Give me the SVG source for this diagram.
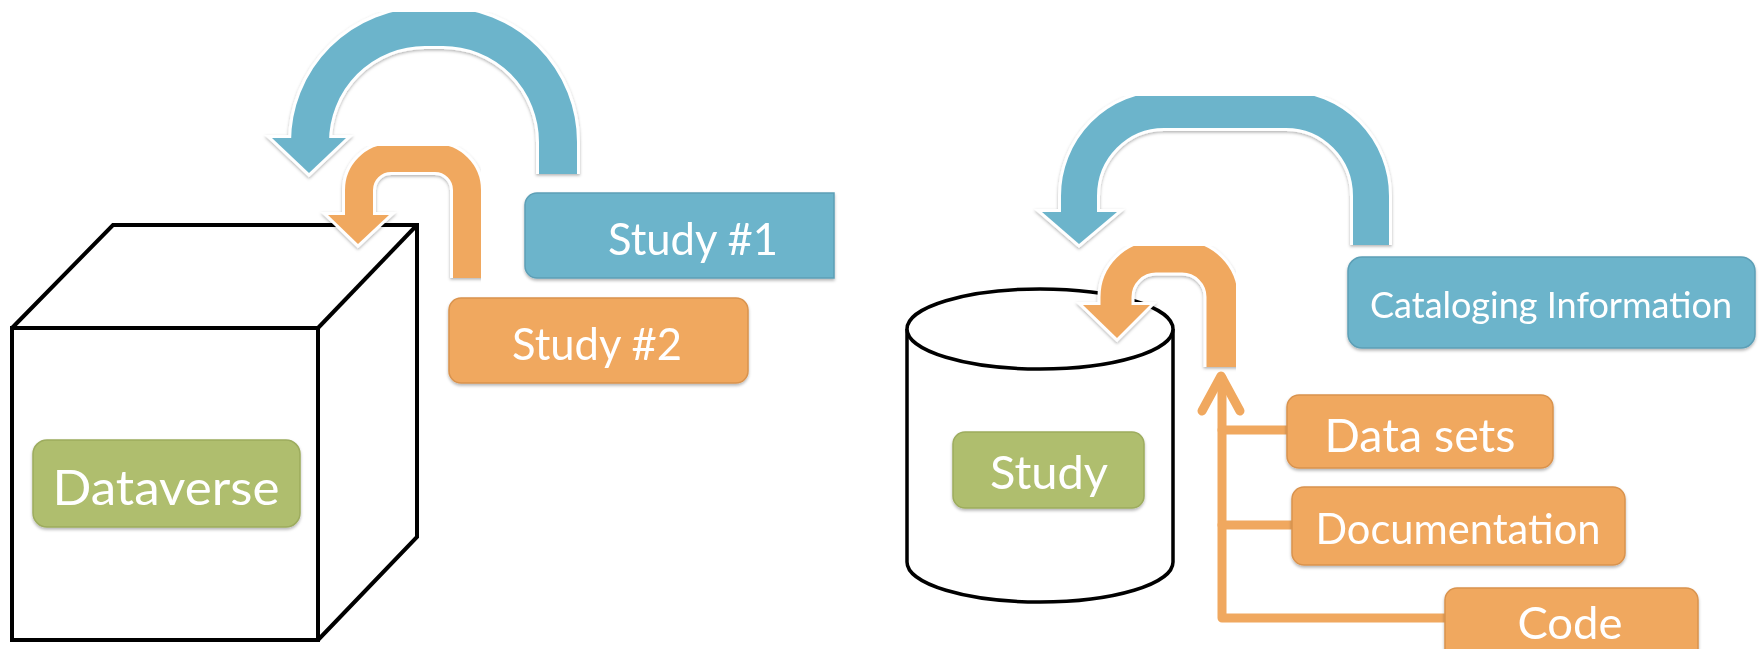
<svg xmlns="http://www.w3.org/2000/svg" width="1761" height="649" viewBox="0 0 1761 649">
  <defs>
    <filter id="sh" x="-10%" y="-10%" width="120%" height="130%">
      <feDropShadow dx="0" dy="2" stdDeviation="1.6" flood-color="#000" flood-opacity="0.28"/>
    </filter>
    <filter id="ash" x="-10%" y="-10%" width="120%" height="130%">
      <feDropShadow dx="0" dy="1.5" stdDeviation="1.5" flood-color="#000" flood-opacity="0.3"/>
    </filter>
  </defs>
  <style>
    .lbl { font-family: Lato, "Open Sans", "Liberation Sans", sans-serif; fill: #ffffff; text-anchor: middle; }
    .blue { fill: #6cb4cb; stroke: #5d9fb6; stroke-width: 1.5; }
    .orange { fill: #f0a85f; stroke: #d9934e; stroke-width: 1.5; }
    .green { fill: #afbe6e; stroke: #9dac5e; stroke-width: 1.5; }
    .outline { fill: none; stroke: #000; stroke-width: 4; stroke-linejoin: miter; }
    .shaftW { fill: none; stroke: #ffffff; stroke-linecap: butt; }
    .headW { stroke: #ffffff; stroke-width: 6; stroke-linejoin: miter; }
    .bshaft { fill: none; stroke: #6cb4cb; stroke-linecap: butt; }
    .oshaft { fill: none; stroke: #f0a85f; stroke-linecap: butt; }
    .link { fill: none; stroke: #f0a85f; stroke-width: 9; stroke-linecap: round; stroke-linejoin: round; }
  </style>
  <rect x="0" y="0" width="1761" height="649" fill="#ffffff"/>

  <!-- Cube (Dataverse container) -->
  <g id="cube">
    <polygon points="12,328 113,225 417,225 417,537 318,640 12,640" fill="#ffffff"/>
    <rect class="outline" x="12" y="328" width="306" height="312"/>
    <polyline class="outline" points="12,328 113,225 417,225 417,537 318,640"/>
    <line class="outline" x1="318" y1="328" x2="417" y2="225"/>
  </g>

  <!-- Cylinder (Study container) -->
  <g id="cylinder">
    <path d="M907,329 V562 A133,40 0 0 0 1173,562 V329" fill="#ffffff" stroke="#000" stroke-width="3.5"/>
    <ellipse cx="1040" cy="329" rx="133" ry="40" fill="#ffffff" stroke="#000" stroke-width="3.5"/>
  </g>

  <g id="connectors">
    <!-- left blue U-turn arrow -->
    <g filter="url(#ash)">
      <path class="shaftW" stroke-width="44" d="M558,174 V142 A115,115 0 0 0 443,27 H425 A115,115 0 0 0 310,142 V139"/>
      <polygon class="headW" points="272,138 346,138 309,173" fill="#ffffff"/>
      <path class="bshaft" stroke-width="38" d="M558,174 V142 A115,115 0 0 0 443,27 H425 A115,115 0 0 0 310,142 V139"/>
      <polygon points="272,138 346,138 309,173" fill="#6cb4cb"/>
    </g>
    <!-- left orange U-turn arrow -->
    <g filter="url(#ash)">
      <path class="shaftW" stroke-width="34" d="M467,278 V190 A32,32 0 0 0 435,158 H391 A32,32 0 0 0 359,190 V216"/>
      <polygon class="headW" points="328,215 389,215 358,244" fill="#ffffff"/>
      <path class="oshaft" stroke-width="28" d="M467,278 V190 A32,32 0 0 0 435,158 H391 A32,32 0 0 0 359,190 V216"/>
      <polygon points="328,215 389,215 358,244" fill="#f0a85f"/>
    </g>
    <!-- right blue U-turn arrow -->
    <g filter="url(#ash)">
      <path class="shaftW" stroke-width="42" d="M1371,245 V196 A85,86 0 0 0 1286,110 H1164 A85,86 0 0 0 1079,196 V213"/>
      <polygon class="headW" points="1042,212 1117,212 1079,244" fill="#ffffff"/>
      <path class="bshaft" stroke-width="36" d="M1371,245 V196 A85,86 0 0 0 1286,110 H1164 A85,86 0 0 0 1079,196 V213"/>
      <polygon points="1042,212 1117,212 1079,244" fill="#6cb4cb"/>
    </g>
    <!-- right orange U-turn arrow -->
    <g filter="url(#ash)">
      <path class="shaftW" stroke-width="37" d="M1222,367 V297 A40,40 0 0 0 1182,257 H1156 A40,40 0 0 0 1116,297 V306"/>
      <polygon class="headW" points="1083,305 1150,305 1117,338" fill="#ffffff"/>
      <path class="oshaft" stroke-width="31" d="M1222,367 V297 A40,40 0 0 0 1182,257 H1156 A40,40 0 0 0 1116,297 V306"/>
      <polygon points="1083,305 1150,305 1117,338" fill="#f0a85f"/>
    </g>
    <!-- component links into the study -->
    <path class="link" d="M1222,378 V618 H1450"/>
    <path class="link" d="M1222,430 H1292"/>
    <path class="link" d="M1222,525 H1296"/>
    <polyline class="link" points="1202,411 1221,376 1240,411"/>
  </g>

  <g id="study1" filter="url(#sh)">
    <path class="blue" d="M834,193 H537 A12,12 0 0 0 525,205 V266 A12,12 0 0 0 537,278 H834 Z"/>
    <text class="lbl" x="693" y="255" font-size="44" textLength="170" lengthAdjust="spacingAndGlyphs">Study #1</text>
  </g>

  <g id="study2" filter="url(#sh)">
    <rect class="orange" x="449" y="298" width="299" height="85" rx="12"/>
    <text class="lbl" x="597" y="360" font-size="44" textLength="170" lengthAdjust="spacingAndGlyphs">Study #2</text>
  </g>

  <g id="dataverse" filter="url(#sh)">
    <rect class="green" x="33" y="440" width="267" height="87" rx="14"/>
    <text class="lbl" x="166" y="505" font-size="49" textLength="227" lengthAdjust="spacingAndGlyphs">Dataverse</text>
  </g>

  <g id="study" filter="url(#sh)">
    <rect class="green" x="953" y="432" width="191" height="76" rx="12"/>
    <text class="lbl" x="1049" y="489" font-size="46" textLength="118" lengthAdjust="spacingAndGlyphs">Study</text>
  </g>

  <g id="cataloging" filter="url(#sh)">
    <rect class="blue" x="1348" y="257" width="407" height="91" rx="14"/>
    <text class="lbl" x="1551" y="318" font-size="36" textLength="362" lengthAdjust="spacingAndGlyphs">Cataloging Information</text>
  </g>

  <g id="datasets" filter="url(#sh)">
    <rect class="orange" x="1287" y="395" width="266" height="73" rx="12"/>
    <text class="lbl" x="1420" y="452" font-size="46" textLength="191" lengthAdjust="spacingAndGlyphs">Data sets</text>
  </g>

  <g id="documentation" filter="url(#sh)">
    <rect class="orange" x="1292" y="487" width="333" height="78" rx="12"/>
    <text class="lbl" x="1458" y="544" font-size="42" textLength="285" lengthAdjust="spacingAndGlyphs">Documentation</text>
  </g>

  <g id="code" filter="url(#sh)">
    <rect class="orange" x="1445" y="588" width="253" height="90" rx="12"/>
    <text class="lbl" x="1570" y="639" font-size="45" textLength="105" lengthAdjust="spacingAndGlyphs">Code</text>
  </g>
</svg>
